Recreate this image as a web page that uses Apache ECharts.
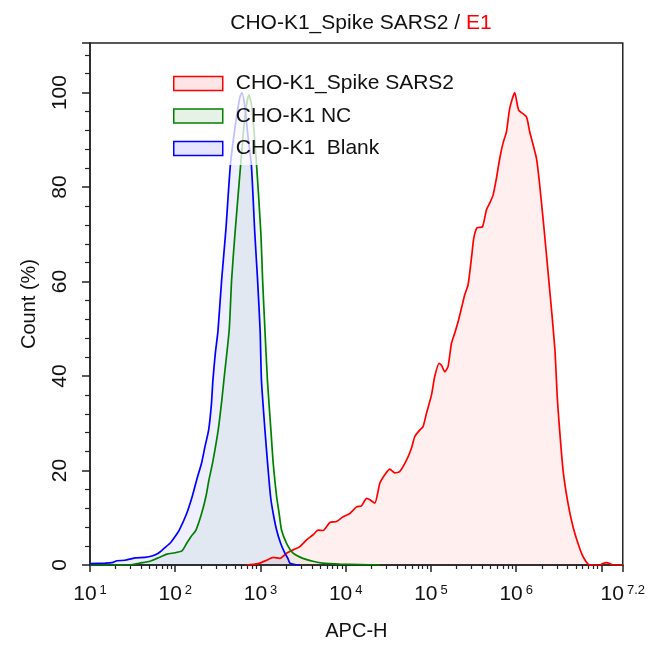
<!DOCTYPE html>
<html>
<head>
<meta charset="utf-8">
<script src="https://cdn.jsdelivr.net/npm/echarts@6/dist/echarts.min.js"></script>
<style>
html,body{margin:0;padding:0;background:#fff;}
#chart{width:648px;height:646px;}
</style>
</head>
<body>
<div id="chart"></div>
<script>
// ---- data (x = log10(APC-H), y = Count %) ----
var seriesNames = ['CHO-K1_Spike SARS2', 'CHO-K1 NC', 'CHO-K1  Blank'];

var spikeX = [2.840,2.934,2.993,3.072,3.149,3.227,3.306,3.383,3.462,3.540,3.618,3.676,3.735,3.814,3.892,3.970,4.048,4.127,4.185,4.244,4.283,4.341,4.400,4.458,4.517,4.576,4.634,4.713,4.771,4.810,4.869,4.907,4.947,5.006,5.044,5.095,5.123,5.162,5.200,5.240,5.279,5.318,5.358,5.396,5.435,5.475,5.502,5.540,5.604,5.651,5.689,5.728,5.768,5.807,5.845,5.885,5.924,5.982,6.029,6.119,6.158,6.237,6.275,6.322,6.373,6.424,6.456,6.480,6.500,6.549,6.607,6.666,6.724,6.783,6.862,6.979,7.014,7.057,7.096,7.131,7.25];
var spikeY = [0,0.2,0.4,1.0,1.6,1.4,2.5,3.2,3.9,5.3,6.4,7.4,7.3,9.0,9.2,10.2,10.9,12.3,12.5,14.1,13.8,13.1,17.3,19.1,20.3,19.5,19.8,22.2,24.7,27.2,28.6,29.3,32.1,36.0,39.9,42.7,42.3,40.9,42.0,46.9,49.1,51.5,54.4,57.2,59.3,65.0,69.2,71.4,71.6,75.2,76.6,78.3,81.9,86.1,89.3,91.7,96.7,100,96.3,94.9,91.7,86.1,80.5,72,62.1,52.0,45,36,30.7,20.1,13.1,8.1,4.6,1.8,0,0,0.3,0.5,0.3,0,0];

var ncX = [1.0,1.469,1.586,1.703,1.785,1.903,1.996,2.079,2.134,2.184,2.243,2.309,2.360,2.395,2.438,2.504,2.547,2.571,2.633,2.661,2.700,2.767,2.817,2.864,2.899,2.954,3.005,3.025,3.052,3.081,3.122,3.149,3.189,3.219,3.247,3.306,3.383,3.497,3.614,3.732,3.931,4.165,4.400];
var ncY = [0,0,0.4,0.8,1.4,2.3,2.6,3.0,4.6,6,7.4,10.9,14.5,18,21.6,28.6,35,39.2,49.8,60.3,70,84.7,95,99.5,97,84.7,70,60.3,49.8,39.2,28.6,21.6,14.5,10.9,7.4,4.6,2.5,1.4,0.8,0.4,0.2,0.1,0];

var blankX = [1.000,1.176,1.258,1.317,1.410,1.528,1.645,1.727,1.801,1.868,1.938,1.996,2.047,2.134,2.199,2.251,2.309,2.348,2.392,2.424,2.442,2.471,2.501,2.544,2.594,2.647,2.712,2.758,2.782,2.817,2.852,2.893,2.934,2.966,2.996,3.011,3.052,3.083,3.118,3.149,3.189,3.236,3.286,3.321,3.345,3.403,3.462];
var blankY = [0.3,0.4,0.5,0.9,1.0,1.5,1.6,1.9,2.5,3.5,4.6,6.0,7.4,10.9,14.5,18,21.6,25,28.6,34,39.2,45,49.5,60.3,71,84.7,94,99,100,97,91,84.7,70,60.3,49.5,39.2,28.6,21.6,14.5,10.9,7.4,4.6,2.5,1.4,0.4,0.1,0];

// ---- axis ticks / labels ----
var xMin = 1, xMax = 7.25;
var xTickValues = [1,2,3,4,5,6,7,7.25];
var xLabelValues = [1,2,3,4,5,6,7.25];
var xLabelExponents = ['1','2','3','4','5','6','7.2'];
var yMax = 110.5;
var yTickValues = [0,20,40,60,80,100,110.5];
var yLabelValues = [0,20,40,60,80,100];
var yMinorStep = 4;

// ---- build ----
function pairs(xs, ys){ var o=[]; for (var i=0;i<xs.length;i++) o.push([xs[i], ys[i]]); return o; }
var xMinor = [];
for (var d=1; d<=7; d++) for (var k=2;k<=9;k++){ var v=d+Math.log10(k); if (v<xMax) xMinor.push(v); }
var yMinor = [];
for (var v=0; v<yMax; v+=yMinorStep){ if (v % 20 !== 0) yMinor.push(v); }

var FONT = 'Liberation Sans';
var lineColors = ['#ff0000', '#008000', '#0000ff'];
var fillColors = ['rgba(255,0,0,0.09)', 'rgba(0,128,0,0.08)', 'rgba(0,0,255,0.09)'];
var legendFills = ['rgba(255,0,0,0.1)', 'rgba(0,128,0,0.1)', 'rgba(0,0,255,0.1)'];
var axisCol = '#222';

var chart = echarts.init(document.getElementById('chart'), null, {renderer:'canvas'});
chart.setOption({
  animation: false,
  backgroundColor: '#fff',
  title: {
    text: '{a|CHO-K1_Spike SARS2 / }{r|E1}',
    left: 356, textAlign: 'center', top: 8,
    textStyle: { fontWeight: 'normal', rich: {
      a: {fontFamily: FONT, fontSize: 21, fontWeight: 'normal', color: '#111'},
      r: {fontFamily: FONT, fontSize: 21, fontWeight: 'normal', color: '#ff0000'}
    }}
  },
  grid: { left: 90, right: 25, top: 43, bottom: 81, show: true, borderColor: axisCol, borderWidth: 1.5, backgroundColor: 'transparent' },
  legend: {
    orient: 'vertical', left: 165, top: 67,
    padding: [6, 10, 6, 8],
    backgroundColor: 'rgba(255,255,255,0.75)',
    itemWidth: 49, itemHeight: 14, itemGap: 11.5,
    icon: 'rect',
    textStyle: { fontFamily: FONT, fontSize: 21, color: '#111', padding: [0,0,0,8] },
    data: seriesNames.map(function(n, i){
      return { name: n, itemStyle: { color: legendFills[i], borderColor: lineColors[i], borderWidth: 1.5 } };
    })
  },
  xAxis: [{
    type: 'value', min: xMin, max: xMax,
    name: 'APC-H', nameLocation: 'middle', nameGap: 56,
    nameTextStyle: { fontFamily: FONT, fontSize: 20, color: '#111' },
    axisLine: { show: true, onZero: false, lineStyle: { color: axisCol, width: 1.5 } },
    axisTick: { show: true, inside: false, length: 7, customValues: xTickValues, lineStyle: { color: axisCol, width: 1.5 } },
    splitLine: { show: false },
    axisLabel: {
      customValues: xLabelValues, margin: 19, showMaxLabel: true, showMinLabel: true,
      formatter: function(v){
        var i = -1;
        for (var j=0;j<xLabelValues.length;j++) if (Math.abs(xLabelValues[j]-v)<1e-6) i=j;
        return i < 0 ? '' : '{b|10}{s|' + xLabelExponents[i] + '}';
      },
      rich: {
        b: { fontFamily: FONT, fontSize: 21, color: '#111' },
        s: { fontFamily: FONT, fontSize: 13, color: '#111', verticalAlign: 'top', padding: [0,0,0,3] }
      }
    }
  }, {
    type: 'value', min: xMin, max: xMax, position: 'bottom',
    axisLine: { show: false },
    axisTick: { show: true, inside: false, length: 4, customValues: xMinor, lineStyle: { color: axisCol, width: 1.2 } },
    axisLabel: { show: false }, splitLine: { show: false }
  }],
  yAxis: [{
    type: 'value', min: 0, max: yMax,
    name: 'Count (%)', nameLocation: 'middle', nameGap: 51,
    nameTextStyle: { fontFamily: FONT, fontSize: 20, color: '#111' },
    axisLine: { show: true, lineStyle: { color: axisCol, width: 1.5 } },
    axisTick: { show: true, inside: false, length: 8, customValues: yTickValues, lineStyle: { color: axisCol, width: 1.5 } },
    splitLine: { show: false },
    axisLabel: {
      customValues: yLabelValues, rotate: 90, margin: 19,
      fontFamily: FONT, fontSize: 21, color: '#111',
      formatter: function(v){ return String(v); }
    }
  }, {
    type: 'value', min: 0, max: yMax, position: 'left',
    axisLine: { show: false },
    axisTick: { show: true, inside: false, length: 5, customValues: yMinor, lineStyle: { color: axisCol, width: 1.2 } },
    axisLabel: { show: false }, splitLine: { show: false }
  }],
  series: [
    { name: seriesNames[0], type: 'line', data: pairs(spikeX, spikeY), xAxisIndex: 0, yAxisIndex: 0,
      showSymbol: false, symbol: 'none', smooth: 0.2, clip: true,
      lineStyle: { color: lineColors[0], width: 1.7 }, itemStyle: { color: lineColors[0] },
      areaStyle: { color: fillColors[0] } },
    { name: seriesNames[1], type: 'line', data: pairs(ncX, ncY), xAxisIndex: 0, yAxisIndex: 0,
      showSymbol: false, symbol: 'none', smooth: 0.2, clip: true,
      lineStyle: { color: lineColors[1], width: 1.7 }, itemStyle: { color: lineColors[1] },
      areaStyle: { color: fillColors[1] } },
    { name: seriesNames[2], type: 'line', data: pairs(blankX, blankY), xAxisIndex: 0, yAxisIndex: 0,
      showSymbol: false, symbol: 'none', smooth: 0.2, clip: true,
      lineStyle: { color: lineColors[2], width: 1.7 }, itemStyle: { color: lineColors[2] },
      areaStyle: { color: fillColors[2] } }
  ]
});
</script>
</body>
</html>
